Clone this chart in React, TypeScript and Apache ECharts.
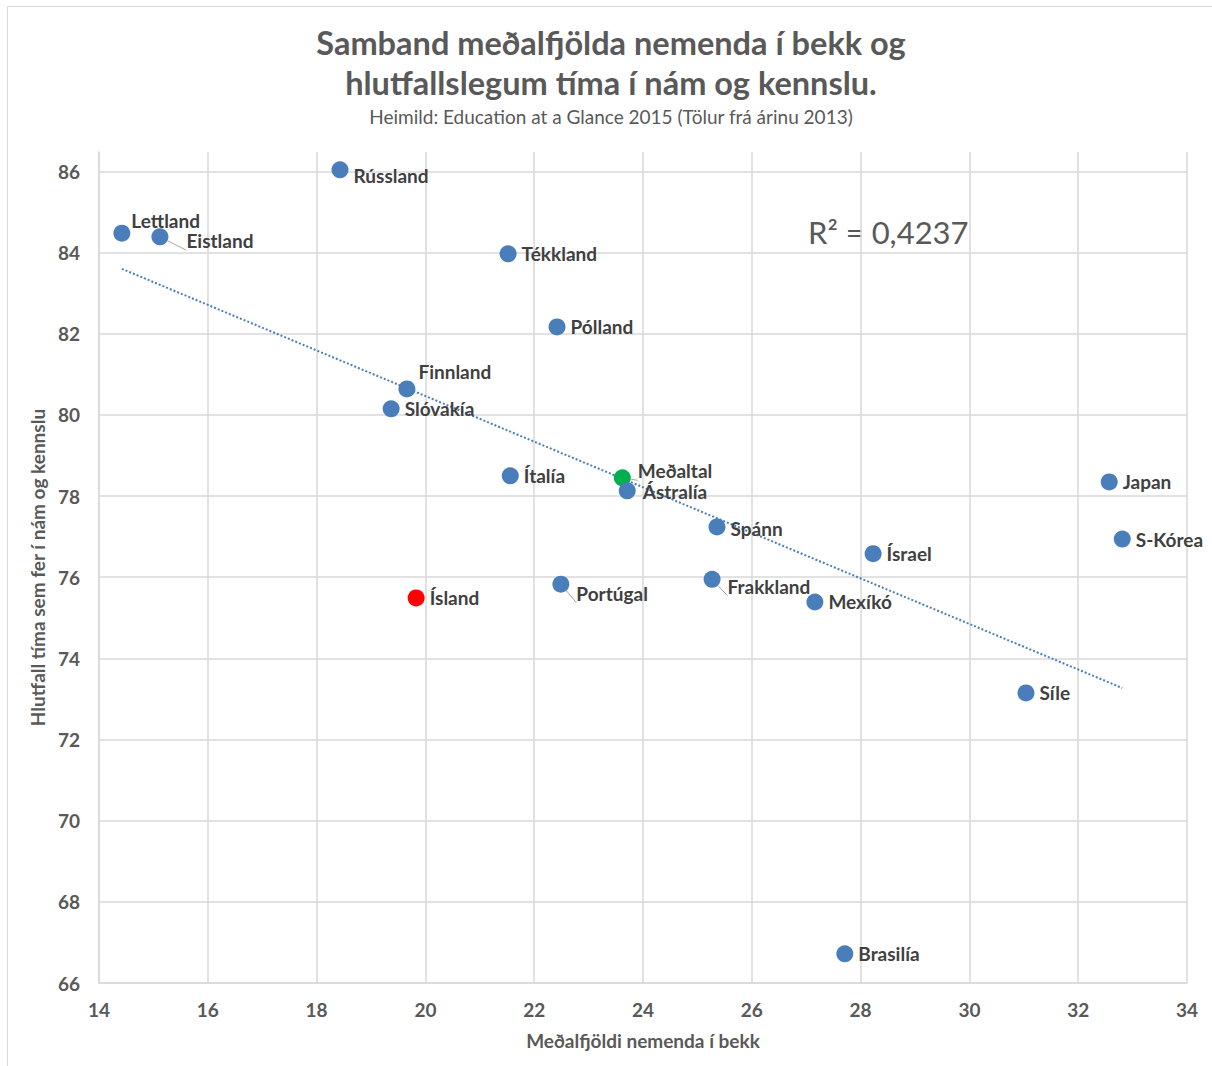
import React, { useEffect, useRef } from "react";
import * as echarts from "echarts";

const countries = [
  "Rússland", "Lettland", "Eistland", "Tékkland", "Pólland", "Finnland", "Slóvakía",
  "Ítalía", "Meðaltal", "Ástralía", "Spánn", "Ísrael", "Japan", "S-Kórea",
  "Portúgal", "Frakkland", "Mexíkó", "Ísland", "Síle", "Brasilía",
];
const classSize = [
  18.43, 14.42, 15.12, 21.52, 22.42, 19.66, 19.37,
  21.56, 23.62, 23.71, 25.36, 28.23, 32.57, 32.81,
  22.49, 25.27, 27.16, 19.83, 31.04, 27.71,
];
const teachingShare = [
  86.04, 84.48, 84.39, 83.97, 82.17, 80.64, 80.15,
  78.5, 78.45, 78.13, 77.24, 76.58, 78.35, 76.94,
  75.83, 75.95, 75.39, 75.49, 73.15, 66.72,
];
const trendX = [14.42, 32.81];
const trendY = [83.6, 73.27];

const labelOffsets: Record<string, [number, number]> = {
  "Rússland": [0, 6],
  "Lettland": [-4, -13],
  "Eistland": [13, 4],
  "Finnland": [-2, -17],
  "Meðaltal": [2, -7],
  "Portúgal": [2, 9],
  "Frakkland": [2, 7],
  "Spánn": [0, 2],
  "Ástralía": [2, 1],
};
const withLine = ["Eistland", "Portúgal", "Frakkland", "Meðaltal"];

const FONT = "Lato, 'Open Sans', sans-serif";
const GREY = "#595959";

export default function App() {
  const ref = useRef<HTMLDivElement>(null);
  useEffect(() => {
    if (!ref.current) return;
    const chart = echarts.init(ref.current, undefined, { renderer: "svg" });
    const data = countries.map((name, i) => {
      const color = name === "Meðaltal" ? "#00b050" : name === "Ísland" ? "#ff0000" : "#4a7ebb";
      const off = labelOffsets[name] || [0, 0];
      return {
        name,
        value: [classSize[i], teachingShare[i]],
        itemStyle: { color, opacity: 1 },
        label: { offset: off },
        labelLine: withLine.includes(name)
          ? { show: true, lineStyle: { color: "#a6a6a6", width: 1 } }
          : { show: false },
      };
    });
    chart.setOption({
      animation: false,
      textStyle: { fontFamily: FONT },
      graphic: [
        {
          type: "rect",
          shape: { x: 7.5, y: 6.5, width: 1230, height: 1100 },
          style: { fill: "none", stroke: "#d9d9d9", lineWidth: 1 },
          silent: true,
        },
        {
          type: "text",
          x: 611,
          y: 42,
          style: {
            text: "Samband meðalfjölda nemenda í bekk og",
            fontSize: 32.5, fontWeight: "bold", fill: GREY, fontFamily: FONT,
            align: "center", verticalAlign: "middle",
          },
        },
        {
          type: "text",
          x: 611,
          y: 82,
          style: {
            text: "hlutfallslegum tíma í nám og kennslu.",
            fontSize: 32.5, fontWeight: "bold", fill: GREY, fontFamily: FONT,
            align: "center", verticalAlign: "middle",
          },
        },
        {
          type: "text",
          x: 611,
          y: 116,
          style: {
            text: "Heimild: Education at a Glance 2015 (Tölur frá árinu 2013)",
            fontSize: 19, fill: GREY, fontFamily: FONT,
            align: "center", verticalAlign: "middle",
          },
        },
        {
          type: "text",
          x: 808,
          y: 232,
          style: { text: "R² = 0,4237", fontSize: 31, fill: GREY, fontFamily: FONT, verticalAlign: "middle" },
        },
      ],
      grid: { left: 99, right: 25, top: 152, bottom: 83, containLabel: false },
      xAxis: {
        type: "value",
        min: 14,
        max: 34,
        interval: 2,
        name: "Meðalfjöldi nemenda í bekk",
        nameLocation: "middle",
        nameGap: 48,
        nameTextStyle: { fontSize: 19, fontWeight: "bold", color: GREY, fontFamily: FONT },
        axisLine: { show: true, lineStyle: { color: "#d9d9d9", width: 1.5 } },
        axisTick: { show: false },
        axisLabel: { fontSize: 19, fontWeight: "bold", color: GREY, margin: 17, fontFamily: FONT },
        splitLine: { show: true, lineStyle: { color: "#d9d9d9", width: 1.5 } },
      },
      yAxis: {
        type: "value",
        min: 66,
        max: 86.48,
        interval: 2,
        name: "Hlutfall tíma sem fer í nám og kennslu",
        nameLocation: "middle",
        nameGap: 48,
        nameTextStyle: { fontSize: 19, fontWeight: "bold", color: GREY, fontFamily: FONT },
        axisLine: { show: true, lineStyle: { color: "#d9d9d9", width: 1.5 } },
        axisTick: { show: false },
        axisLabel: {
          fontSize: 19,
          fontWeight: "bold",
          color: GREY,
          margin: 19,
          fontFamily: FONT,
          formatter: (v: number) => (Math.abs(v - Math.round(v)) < 1e-6 ? String(Math.round(v)) : ""),
        },
        splitLine: { show: true, showMaxLine: false, lineStyle: { color: "#d9d9d9", width: 1.5 } },
      },
      series: [
        {
          type: "line",
          data: trendX.map((x, i) => [x, trendY[i]]),
          symbol: "none",
          lineStyle: { type: "dotted", color: "#4a7ebb", width: 2 },
          silent: true,
          z: 1,
        },
        {
          type: "scatter",
          symbolSize: 17,
          data,
          z: 3,
          label: {
            show: true,
            position: "right",
            distance: 5,
            formatter: (p: any) => p.name,
            fontSize: 19,
            fontWeight: "bold",
            color: "#404040",
            fontFamily: FONT,
          },
        },
      ],
    });
    return () => chart.dispose();
  }, []);
  return (
    <div
      ref={ref}
      style={{ position: "absolute", left: 0, top: 0, width: 1212, height: 1066, background: "#fff" }}
    />
  );
}
